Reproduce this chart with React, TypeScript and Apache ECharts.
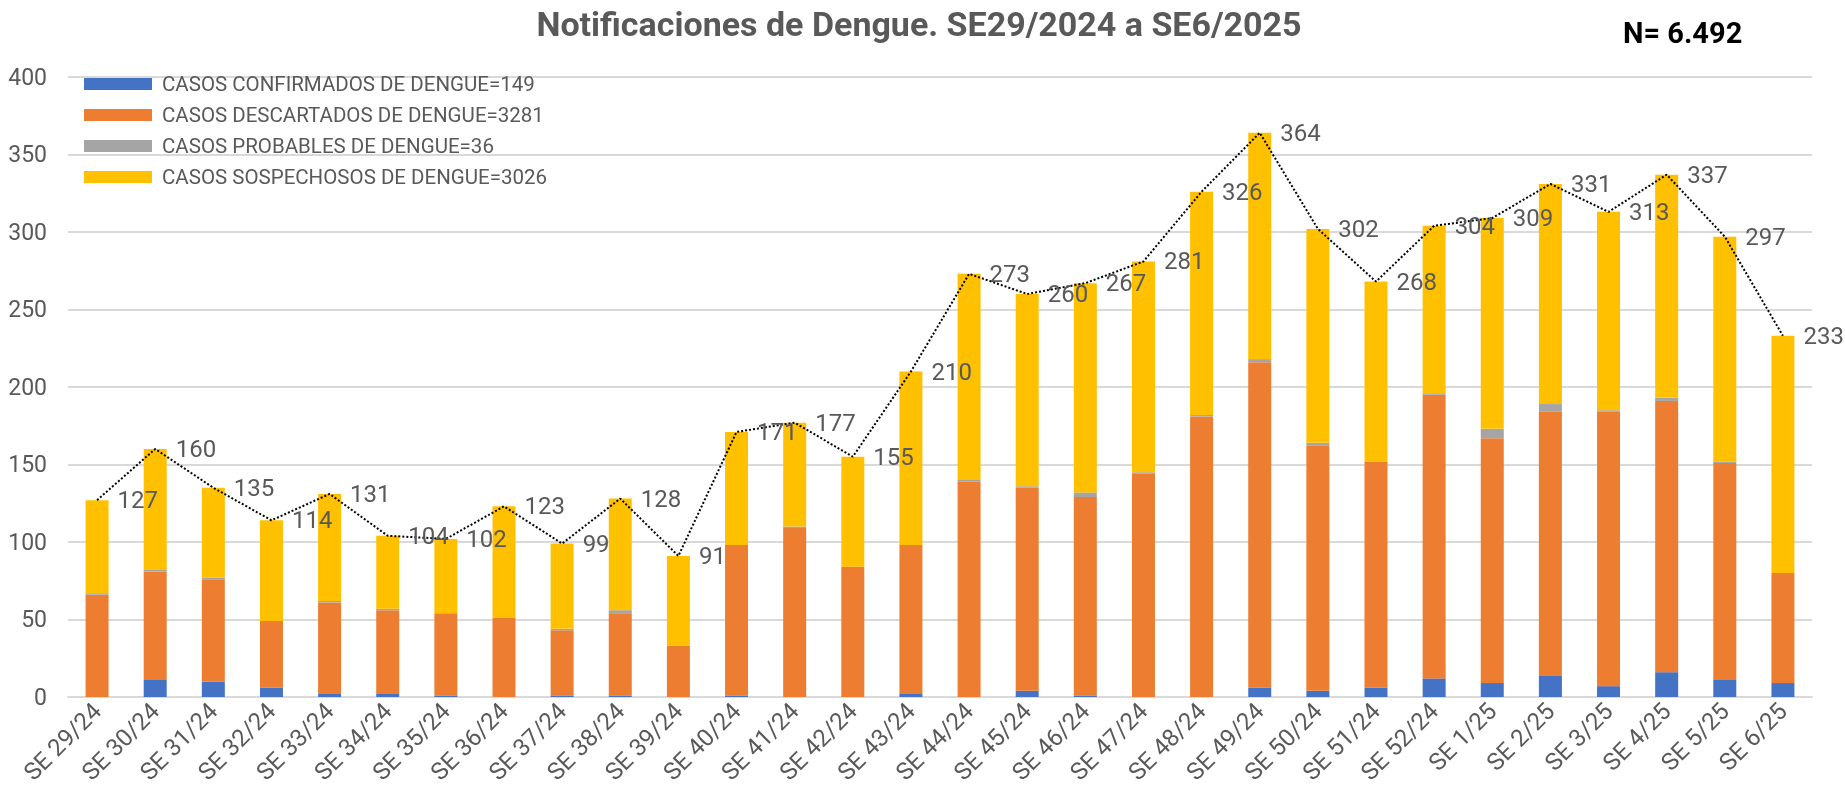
import React, { useEffect, useRef } from "react";
import * as echarts from "echarts";

const categories = [
  "SE 29/24", "SE 30/24", "SE 31/24", "SE 32/24", "SE 33/24", "SE 34/24", "SE 35/24", "SE 36/24",
  "SE 37/24", "SE 38/24", "SE 39/24", "SE 40/24", "SE 41/24", "SE 42/24", "SE 43/24", "SE 44/24",
  "SE 45/24", "SE 46/24", "SE 47/24", "SE 48/24", "SE 49/24", "SE 50/24", "SE 51/24", "SE 52/24",
  "SE 1/25", "SE 2/25", "SE 3/25", "SE 4/25", "SE 5/25", "SE 6/25",
];

const confirmados = [0, 11, 10, 6, 2, 2, 1, 0, 1, 1, 0, 1, 0, 0, 2, 0, 4, 1, 0, 0, 6, 4, 6, 12, 9, 14, 7, 16, 11, 9];
const descartados = [66, 70, 66, 43, 59, 54, 53, 51, 42, 53, 33, 97, 109, 84, 96, 139, 131, 128, 144, 181, 210, 158, 146, 183, 158, 170, 177, 175, 140, 71];
const probables = [1, 1, 1, 0, 1, 1, 0, 0, 1, 2, 0, 0, 1, 0, 0, 1, 1, 3, 1, 1, 2, 2, 0, 1, 6, 5, 1, 2, 1, 0];
const sospechosos = [60, 78, 58, 65, 69, 47, 48, 72, 55, 72, 58, 73, 67, 71, 112, 133, 124, 135, 136, 144, 146, 138, 116, 108, 136, 142, 128, 144, 145, 153];
const totales = [127, 160, 135, 114, 131, 104, 102, 123, 99, 128, 91, 171, 177, 155, 210, 273, 260, 267, 281, 326, 364, 302, 268, 304, 309, 331, 313, 337, 297, 233];

const seriesNames = [
  "CASOS CONFIRMADOS DE DENGUE=149",
  "CASOS DESCARTADOS DE DENGUE=3281",
  "CASOS PROBABLES DE DENGUE=36",
  "CASOS SOSPECHOSOS DE DENGUE=3026",
];
const seriesColors = ["#4472C4", "#ED7D31", "#A5A5A5", "#FFC000"];

const titleText = "Notificaciones de Dengue. SE29/2024 a SE6/2025";
const nText = "N= 6.492";

const FONT = "Roboto, sans-serif";
const GRAY = "#595959";

export default function App() {
  const ref = useRef<HTMLDivElement>(null);
  useEffect(() => {
    if (!ref.current) return;
    const chart = echarts.init(ref.current, null, { renderer: "svg" });
    const barData = [confirmados, descartados, probables, sospechosos];
    const bars = barData.map((d, i) => ({
      name: seriesNames[i],
      type: "bar",
      stack: "total",
      data: d,
      barWidth: 23,
      itemStyle: { color: seriesColors[i] },
      z: 2,
    }));
    chart.setOption({
      animation: false,
      textStyle: { fontFamily: FONT },
      title: [
        {
          text: titleText,
          left: 914,
          top: 2,
          textAlign: "center",
          textStyle: { fontFamily: FONT, fontSize: 34, fontWeight: "bold", color: GRAY },
        },
        {
          text: nText,
          left: 1618,
          top: 13,
          textStyle: { fontFamily: FONT, fontSize: 29, fontWeight: "bold", color: "#000" },
        },
      ],
      legend: {
        orient: "vertical",
        left: 79,
        top: 68,
        itemWidth: 68,
        itemHeight: 12,
        itemGap: 9,
        icon: "rect",
        data: seriesNames,
        textStyle: { fontFamily: FONT, fontSize: 20.5, color: GRAY, lineHeight: 22, padding: [0, 0, 0, 5] },
      },
      grid: { left: 68, right: 33, top: 77, bottom: 96, containLabel: false },
      xAxis: {
        type: "category",
        data: categories,
        axisLine: { lineStyle: { color: "#D9D9D9", width: 2 } },
        axisTick: { show: false },
        axisLabel: { rotate: 45, fontSize: 24, color: GRAY, margin: 10, interval: 0, fontFamily: FONT },
      },
      yAxis: {
        type: "value",
        min: 0,
        max: 400,
        interval: 50,
        axisLine: { show: false },
        axisTick: { show: false },
        splitLine: { lineStyle: { color: "#D9D9D9", width: 2 } },
        axisLabel: { fontSize: 23, color: GRAY, margin: 21, fontFamily: FONT },
      },
      series: [
        ...bars,
        {
          name: "Total",
          type: "line",
          data: totales,
          symbol: "circle",
          symbolSize: 1,
          showSymbol: true,
          itemStyle: { color: "rgba(0,0,0,0)" },
          z: 5,
          lineStyle: { type: "dotted", color: "#000", width: 2 },
          label: { show: true, position: "right", distance: 20, fontSize: 24, color: GRAY, fontFamily: FONT },
        },
      ],
    });
    return () => chart.dispose();
  }, []);
  return <div ref={ref} style={{ position: "fixed", left: 0, top: 0, width: 1845, height: 793 }} />;
}
